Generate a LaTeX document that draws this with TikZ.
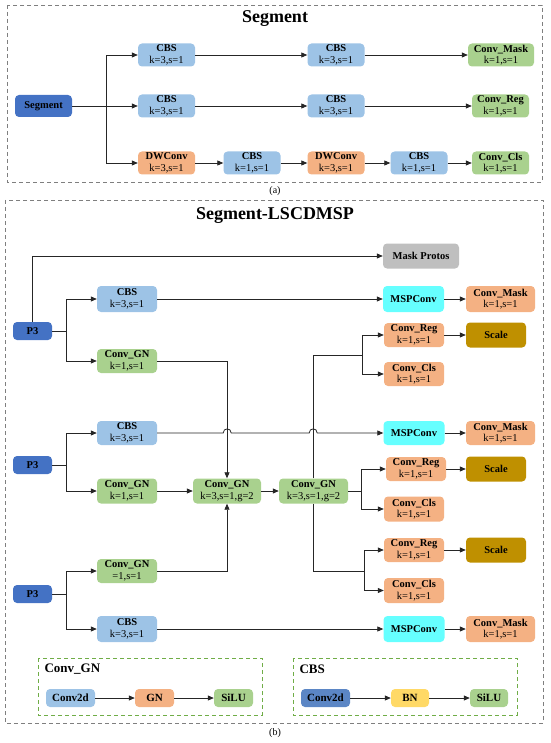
\documentclass[tikz,border=0pt]{standalone}
\usepackage{fontspec}
\setmainfont{Liberation Serif}
\usetikzlibrary{arrows.meta}
\definecolor{deepblue}{HTML}{4472C4}
\definecolor{midblue}{HTML}{5B86C5}
\definecolor{cbsblue}{HTML}{9DC3E6}
\definecolor{gngreen}{HTML}{A9D18E}
\definecolor{headorange}{HTML}{F4B183}
\definecolor{mspcyan}{HTML}{66FFFF}
\definecolor{protogray}{HTML}{BFBFBF}
\definecolor{scalegold}{HTML}{BF9000}
\definecolor{bnyellow}{HTML}{FFD966}
\definecolor{framegray}{HTML}{7F7F7F}
\definecolor{legendgreen}{HTML}{70AD47}
\definecolor{wire}{HTML}{262626}

\begin{document}
\begin{tikzpicture}[x=1pt, y=-1pt,
    block/.style={rectangle, rounded corners=4pt, inner sep=0pt, align=center, font=\bfseries\fontsize{10.5}{11.5}\selectfont, minimum width=60pt, minimum height=25pt},
    inblue/.style={block, fill=deepblue, minimum width=39pt, minimum height=18pt},
    cbs/.style={block, fill=cbsblue},
    gn/.style={block, fill=gngreen},
    head/.style={block, fill=headorange},
    msp/.style={block, fill=mspcyan, minimum width=61pt, minimum height=26pt},
    scalebox/.style={block, fill=scalegold, minimum height=25pt},
    frame/.style={draw=framegray, line width=0.9pt, dash pattern=on 4pt off 3pt},
    legend/.style={draw=legendgreen, line width=0.9pt, dash pattern=on 4pt off 3pt},
    title/.style={font=\bfseries\fontsize{18}{20}\selectfont},
    arrow/.style={draw=wire, line width=0.8pt, -{Triangle[length=6pt,width=5pt]}},
    line/.style={draw=wire, line width=0.8pt}
]
\useasboundingbox (0,0) rectangle (550,743);

% ---------- (a) Segment ----------
\draw[frame] (7,5) rectangle (542,182);
\node[title] (titleA) at (275,19) {Segment};
\node[font=\fontsize{10}{12}\selectfont] (capA) at (275,191) {(a)};

\node[inblue, minimum width=57pt, minimum height=22pt] (seg) at (43.5,106) {Segment};
\coordinate (ja) at (106,106);

\node[cbs, minimum width=57pt, minimum height=23pt] (cbsA1) at (166.5,55) {CBS\\\mdseries k=3,s=1};
\node[cbs, minimum width=57pt, minimum height=23pt] (cbsA3) at (336,55) {CBS\\\mdseries k=3,s=1};
\node[gn, minimum width=66pt, minimum height=23pt] (maskA) at (501,55) {Conv\_Mask\\\mdseries k=1,s=1};

\node[cbs, minimum width=57pt, minimum height=23pt] (cbsA2) at (166.5,106) {CBS\\\mdseries k=3,s=1};
\node[cbs, minimum width=57pt, minimum height=23pt] (cbsA4) at (336,106) {CBS\\\mdseries k=3,s=1};
\node[gn, minimum width=57pt, minimum height=23pt] (regA) at (500.5,106) {Conv\_Reg\\\mdseries k=1,s=1};

\node[head, minimum width=57pt, minimum height=23pt] (dwA1) at (166.5,163) {DWConv\\\mdseries k=3,s=1};
\node[cbs, minimum width=57pt, minimum height=23pt] (cbsA5) at (252,163) {CBS\\\mdseries k=1,s=1};
\node[head, minimum width=57pt, minimum height=23pt] (dwA2) at (336,163) {DWConv\\\mdseries k=3,s=1};
\node[cbs, minimum width=57pt, minimum height=23pt] (cbsA6) at (419,163) {CBS\\\mdseries k=1,s=1};
\node[gn, minimum width=57pt, minimum height=23pt] (clsA) at (500.5,163) {Conv\_Cls\\\mdseries k=1,s=1};

\draw[arrow] (seg) -- (cbsA2);
\draw[arrow] (ja) |- (cbsA1);
\draw[arrow] (ja) |- (dwA1);
\draw[arrow] (cbsA1) -- (cbsA3);
\draw[arrow] (cbsA3) -- (maskA);
\draw[arrow] (cbsA2) -- (cbsA4);
\draw[arrow] (cbsA4) -- (regA);
\draw[arrow] (dwA1) -- (cbsA5);
\draw[arrow] (cbsA5) -- (dwA2);
\draw[arrow] (dwA2) -- (cbsA6);
\draw[arrow] (cbsA6) -- (clsA);

% ---------- (b) Segment-LSCDMSP ----------
\draw[frame] (5,200) rectangle (543,723);
\node[title] (titleB) at (275,216) {Segment-LSCDMSP};
\node[font=\fontsize{10}{12}\selectfont] (capB) at (275,733) {(b)};

% inputs
\node[inblue] (p3a) at (32.5,331) {P3};
\node[inblue] (p3b) at (32.5,465) {P3};
\node[inblue] (p3c) at (32.5,594) {P3};
\coordinate (jb1) at (66,331);
\coordinate (jb2) at (66,465);
\coordinate (jb3) at (66,594);

% first column
\node[cbs, minimum height=26pt] (cbsB1) at (127,299) {CBS\\\mdseries k=3,s=1};
\node[gn, minimum height=24pt] (gnB1) at (127,361) {Conv\_GN\\\mdseries k=1,s=1};
\node[cbs, minimum height=24pt] (cbsB2) at (127,433) {CBS\\\mdseries k=3,s=1};
\node[gn] (gnB2) at (127,491) {Conv\_GN\\\mdseries k=1,s=1};
\node[gn, minimum height=24pt] (gnB3) at (127,571) {Conv\_GN\\\mdseries =1,s=1};
\node[cbs, minimum height=26pt] (cbsB3) at (127,629) {CBS\\\mdseries k=3,s=1};

% shared convs
\node[gn, minimum width=68pt] (gnC1) at (227,491) {Conv\_GN\\\mdseries k=3,s=1,g=2};
\node[gn, minimum width=69pt] (gnC2) at (313.5,491) {Conv\_GN\\\mdseries k=3,s=1,g=2};
\coordinate (jc1) at (362,355);
\coordinate (jc2) at (361,491);
\coordinate (jc3) at (364,571);

% heads
\node[block, fill=protogray, minimum width=76pt] (protos) at (421,256) {Mask Protos};
\node[msp] (msp1) at (413.5,299) {MSPConv};
\node[head, minimum width=69pt, minimum height=26pt] (maskB1) at (500.5,299) {Conv\_Mask\\\mdseries k=1,s=1};
\node[head, minimum height=24pt] (regB1) at (414,335) {Conv\_Reg\\\mdseries k=1,s=1};
\node[scalebox] (scale1) at (496,335) {Scale};
\node[head, minimum height=24pt] (clsB1) at (414,374) {Conv\_Cls\\\mdseries k=1,s=1};

\node[msp, minimum height=24pt] (msp2) at (414,433) {MSPConv};
\node[head, minimum width=69pt, minimum height=24pt] (maskB2) at (500.5,433) {Conv\_Mask\\\mdseries k=1,s=1};
\node[head, minimum height=24pt] (regB2) at (416,469) {Conv\_Reg\\\mdseries k=1,s=1};
\node[scalebox] (scale2) at (496,469) {Scale};
\node[head] (clsB2) at (414,509) {Conv\_Cls\\\mdseries k=1,s=1};

\node[head, minimum height=24pt] (regB3) at (414,550) {Conv\_Reg\\\mdseries k=1,s=1};
\node[scalebox] (scale3) at (496,550) {Scale};
\node[head] (clsB3) at (414,590.5) {Conv\_Cls\\\mdseries k=1,s=1};
\node[msp] (msp3) at (414,629) {MSPConv};
\node[head, minimum width=69pt, minimum height=26pt] (maskB3) at (500.5,629) {Conv\_Mask\\\mdseries k=1,s=1};

% wires
\draw[arrow] (p3a.north) |- (protos);
\draw[line] (p3a) -- (jb1);
\draw[arrow] (jb1) |- (cbsB1);
\draw[arrow] (jb1) |- (gnB1);
\draw[line] (p3b) -- (jb2);
\draw[arrow] (jb2) |- (cbsB2);
\draw[arrow] (jb2) |- (gnB2);
\draw[line] (p3c) -- (jb3);
\draw[arrow] (jb3) |- (gnB3);
\draw[arrow] (jb3) |- (cbsB3);

\draw[arrow] (cbsB1) -- (msp1);
\draw[arrow] (msp1) -- (maskB1);
\draw[arrow] (gnB1) -| (gnC1);
\draw[arrow] (gnB3) -| (gnC1);
\draw[arrow] (gnB2) -- (gnC1);
\draw[arrow] (gnC1) -- (gnC2);
\draw[arrow] (cbsB2.east) -- ++(66,0) .. controls +(0,-5.5) and +(0,-5.5) .. ++(8,0)
    -- ++(78,0) .. controls +(0,-5.5) and +(0,-5.5) .. ++(8,0) -- (msp2.west);
\draw[arrow] (msp2) -- (maskB2);
\draw[arrow] (cbsB3) -- (msp3);
\draw[arrow] (msp3) -- (maskB3);

\draw[line] (gnC2.north) |- (jc1);
\draw[line] (gnC2) -- (jc2);
\draw[line] (gnC2.south) |- (jc3);
\draw[arrow] (jc1) |- (regB1);
\draw[arrow] (jc1) |- (clsB1);
\draw[arrow] (jc2) |- (regB2);
\draw[arrow] (jc2) |- (clsB2);
\draw[arrow] (jc3) |- (regB3);
\draw[arrow] (jc3) |- (clsB3);
\draw[arrow] (regB1) -- (scale1);
\draw[arrow] (regB2) -- (scale2);
\draw[arrow] (regB3) -- (scale3);

% ---------- legends ----------
\draw[legend] (38,658) rectangle (262,715);
\node[anchor=west, font=\bfseries\fontsize{13}{15}\selectfont] (legGN) at (41,669) {Conv\_GN};
\node[cbs, minimum width=49pt, minimum height=18pt, font=\bfseries\fontsize{11}{13}\selectfont] (gnConv) at (70.5,698) {Conv2d};
\node[head, minimum width=39pt, minimum height=18pt, font=\bfseries\fontsize{11}{13}\selectfont] (gnNorm) at (154.5,698) {GN};
\node[gn, minimum width=39pt, minimum height=18pt, font=\bfseries\fontsize{11}{13}\selectfont] (gnAct) at (233.5,698) {SiLU};
\draw[arrow] (gnConv) -- (gnNorm);
\draw[arrow] (gnNorm) -- (gnAct);

\draw[legend] (293,658) rectangle (517,715);
\node[anchor=west, font=\bfseries\fontsize{13}{15}\selectfont] (legCBS) at (296,669) {CBS};
\node[block, fill=midblue, minimum width=49pt, minimum height=18pt, font=\bfseries\fontsize{11}{13}\selectfont] (cbsConv) at (325.5,698) {Conv2d};
\node[block, fill=bnyellow, minimum width=38pt, minimum height=18pt, font=\bfseries\fontsize{11}{13}\selectfont] (cbsNorm) at (410,698) {BN};
\node[gn, minimum width=38pt, minimum height=18pt, font=\bfseries\fontsize{11}{13}\selectfont] (cbsAct) at (489,698) {SiLU};
\draw[arrow] (cbsConv) -- (cbsNorm);
\draw[arrow] (cbsNorm) -- (cbsAct);
\end{tikzpicture}
\end{document}
